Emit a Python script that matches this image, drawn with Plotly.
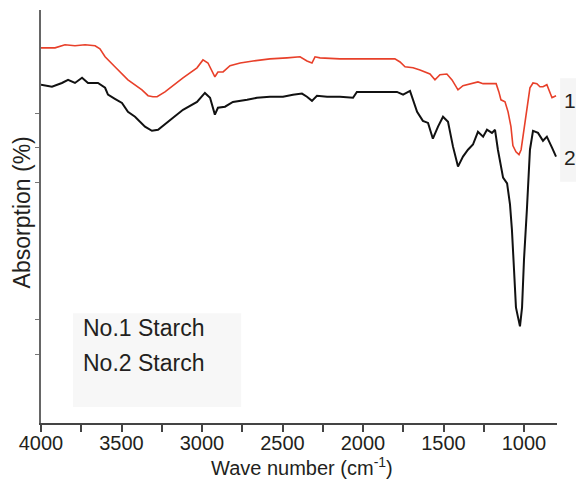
import plotly.graph_objects as go

# FTIR spectra of two starch samples (wavenumber in cm^-1, absorption in arbitrary offset units)
wn_1 = [4000, 3944, 3913, 3851, 3789, 3726, 3664, 3634, 3602, 3541, 3460, 3373, 3335, 3305,
        3279, 3230, 3167, 3118, 3031, 2994, 2963, 2938, 2920, 2901, 2869, 2826, 2763, 2683,
        2578, 2472, 2391, 2348, 2317, 2298, 2267, 2143, 2019, 1894, 1802, 1770, 1739, 1689,
        1646, 1584, 1553, 1522, 1479, 1447, 1410, 1379, 1335, 1286, 1254, 1211, 1173, 1156,
        1143, 1118, 1099, 1081, 1069, 1050, 1031, 1018, 1000, 982, 963, 944, 920, 901, 882,
        858, 839, 826, 801]
abs_1 = [10.90, 10.91, 10.90, 10.99, 10.96, 10.99, 10.96, 10.87, 10.64, 10.35, 9.97, 9.68, 9.51, 9.48,
         9.48, 9.62, 9.86, 10.03, 10.32, 10.55, 10.46, 10.20, 10.06, 10.20, 10.20, 10.38, 10.46, 10.52,
         10.58, 10.61, 10.64, 10.52, 10.46, 10.64, 10.61, 10.58, 10.58, 10.58, 10.58, 10.49, 10.35, 10.32,
         10.26, 10.14, 9.97, 10.12, 10.14, 9.97, 9.68, 9.80, 9.86, 9.91, 9.86, 9.86, 9.86, 9.62,
         9.39, 9.33, 9.04, 8.61, 8.06, 7.88, 7.80, 7.94, 8.52, 9.10, 9.74, 9.88, 9.86, 9.77, 9.77,
         9.83, 9.62, 9.45, 9.51]

wn_2 = [4000, 3932, 3870, 3832, 3789, 3745, 3708, 3646, 3602, 3584, 3541, 3497, 3460, 3416,
        3354, 3311, 3273, 3230, 3180, 3118, 3031, 2982, 2950, 2920, 2901, 2857, 2808, 2720,
        2659, 2578, 2497, 2435, 2379, 2348, 2317, 2286, 2223, 2143, 2062, 2038, 1894, 1789,
        1751, 1708, 1664, 1628, 1596, 1566, 1534, 1503, 1472, 1441, 1410, 1379, 1348, 1317,
        1286, 1254, 1230, 1199, 1180, 1162, 1130, 1105, 1087, 1075, 1062, 1050, 1037, 1025,
        1012, 1000, 982, 963, 944, 913, 882, 858, 826, 801]
abs_2 = [9.83, 9.77, 9.88, 9.97, 9.88, 10.03, 9.88, 9.88, 9.74, 9.54, 9.42, 9.30, 9.04, 8.90,
         8.61, 8.49, 8.52, 8.67, 8.87, 9.10, 9.33, 9.59, 9.45, 8.96, 9.16, 9.19, 9.33, 9.39,
         9.45, 9.48, 9.48, 9.54, 9.57, 9.48, 9.36, 9.51, 9.48, 9.48, 9.45, 9.62, 9.62, 9.62,
         9.54, 9.65, 9.04, 8.78, 8.72, 8.26, 8.61, 8.90, 8.75, 8.03, 7.45, 7.74, 7.94, 8.09,
         8.46, 8.32, 8.52, 8.43, 8.52, 7.94, 7.13, 6.96, 6.35, 5.62, 4.46, 3.36, 3.07, 2.81,
         3.36, 4.75, 6.20, 7.94, 8.49, 8.43, 8.20, 8.32, 8.00, 7.74]

x_ticks = [4000, 3500, 3000, 2500, 2000, 1500, 1000]
y_ticks = [2, 3, 7, 8, 9]
legend_labels = ["No.1 Starch", "No.2 Starch"]
curve_labels = ["1", "2"]

TEXT = "#231f20"
FONT = "Liberation Sans, Arial, sans-serif"

fig = go.Figure()
fig.add_trace(go.Scatter(x=wn_1, y=abs_1, mode="lines",
                         line=dict(color="#e8402a", width=1.6), showlegend=False))
fig.add_trace(go.Scatter(x=wn_2, y=abs_2, mode="lines",
                         line=dict(color="#111111", width=2.0), showlegend=False))

# legend panel (text only, light grey background)
fig.add_shape(type="rect", xref="paper", yref="paper", x0=0.062, x1=0.388, y0=0.039, y1=0.266,
              fillcolor="#f7f7f7", line=dict(width=0), layer="below")
for lbl, yy in zip(legend_labels, [0.230, 0.145]):
    fig.add_annotation(text=lbl, xref="paper", yref="paper", x=0.0775, y=yy,
                       xanchor="left", yanchor="middle", showarrow=False,
                       font=dict(size=23, color=TEXT, family=FONT))

# curve numbers at the right end
fig.add_shape(type="rect", xref="paper", yref="paper", x0=1.006, x1=1.045, y0=0.584, y1=0.835,
              fillcolor="#f5f5f5", line=dict(width=0), layer="below")
for lbl, yy in zip(curve_labels, [0.780, 0.644]):
    fig.add_annotation(text=lbl, xref="paper", yref="paper", x=1.010, y=yy,
                       xanchor="left", yanchor="middle", showarrow=False,
                       font=dict(size=21, color=TEXT, family=FONT))

# axis titles
fig.add_annotation(text="Absorption (%)", xref="paper", yref="paper", x=-0.036, y=0.511,
                   xanchor="center", yanchor="middle", textangle=-90, showarrow=False,
                   font=dict(size=23, color=TEXT, family=FONT))
fig.add_annotation(text="Wave number (cm<sup>-1</sup>)", xref="paper", yref="paper", x=0.505, y=-0.141,
                   xanchor="center", yanchor="bottom", showarrow=False,
                   font=dict(size=20, color=TEXT, family=FONT))

fig.update_xaxes(range=[4000, 795], tickvals=x_ticks, ticks="outside", ticklen=7, tickwidth=1.5,
                 tickcolor="#444", showline=True, linecolor="#444", linewidth=2,
                 showgrid=False, zeroline=False, ticklabelstandoff=-6,
                 tickfont=dict(size=20, color=TEXT, family=FONT),
                 minor=dict(dtick=250, ticks="outside", ticklen=7, tickwidth=1.5, tickcolor="#444"))
fig.update_yaxes(range=[0, 12], tickvals=y_ticks, showticklabels=False, ticks="outside",
                 ticklen=4, tickwidth=1, tickcolor="#777", showline=True, linecolor="#666",
                 linewidth=2, showgrid=False, zeroline=False)

fig.update_layout(width=576, height=482, margin=dict(l=41, r=19, t=10, b=59),
                  plot_bgcolor="white", paper_bgcolor="white", showlegend=False)

fig.write_html("out.html")
